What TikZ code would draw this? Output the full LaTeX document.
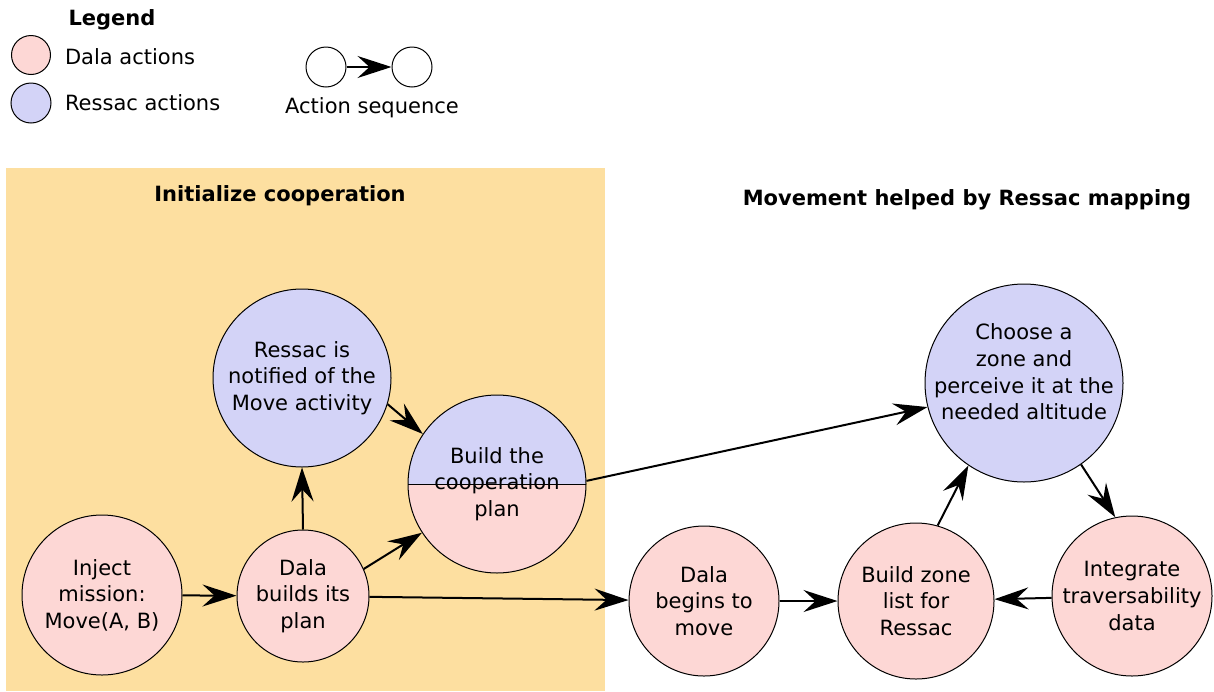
\documentclass[tikz,border=0pt]{standalone}
\usepackage{fontspec}
\setmainfont{DejaVu Sans}
\usepackage{xcolor}
\usetikzlibrary{arrows.meta}

\definecolor{dalapink}{RGB}{253,215,213}
\definecolor{ressacblue}{RGB}{211,211,247}
\definecolor{coopzone}{RGB}{253,223,160}

\tikzset{
	act/.style={circle,draw,line width=0.5pt,inner sep=0pt,align=center},
	dala/.style={act,fill=dalapink},
	ressac/.style={act,fill=ressacblue},
	seq/.style={-{Stealth[length=17pt,width=11pt,inset=6pt]},line width=1pt},
	title/.style={font=\fontsize{10.5}{13.3}\selectfont\bfseries},
}

\begin{document}
\begin{tikzpicture}[x=0.5pt,y=-0.5pt,font=\fontsize{10.5}{13.3}\selectfont]
		\useasboundingbox (0,0) rectangle (1214,691);
		\fill[coopzone] (6,168) rectangle (605,691);
		%
		% legend
		\node[title] (Lg) at (112,20) {Legend};
		\node[dala,minimum size=19.5pt] (L1) at (31,55) {};
		\node[ressac,minimum size=20pt] (L2) at (31,103) {};
		\node[anchor=west] (L1t) at (58,57) {Dala actions};
		\node[anchor=west] (L2t) at (58,103) {Ressac actions};
		\node[act,minimum size=20pt] (S1) at (326,67) {};
		\node[act,minimum size=20pt] (S2) at (412,67) {};
		\node (St) at (372,108) {Action sequence};
		%
		\node[title] (T1) at (280,196) {Initialize cooperation};
		\node[title] (T2) at (967,200) {Movement helped by Ressac mapping};
		%
		\node[dala,minimum size=80pt] (I) at (102,595) {Inject\\mission:\\Move(A, B)};
		\node[dala,minimum size=66pt] (D) at (303,596) {Dala\\builds its\\plan};
		\node[ressac,minimum size=89pt] (R) at (302,378) {Ressac is\\notified of the\\Move activity};
		\node[act,minimum size=89pt,path picture={
			\fill[ressacblue] (path picture bounding box.north west) rectangle (path picture bounding box.east);
			\fill[dalapink] (path picture bounding box.west) rectangle (path picture bounding box.south east);
			\draw[line width=0.5pt] (path picture bounding box.west) -- (path picture bounding box.east);
		}] (C) at (497,484) {Build the\\cooperation\\plan};
		\node[dala,minimum size=75pt] (M) at (704,601) {Dala\\begins to\\move};
		\node[dala,minimum size=78pt] (Z) at (916,601) {Build zone\\list for\\Ressac};
		\node[dala,minimum size=80pt] (T) at (1132,596) {Integrate\\traversability\\data};
		\node[ressac,minimum size=99pt] (P) at (1024,383) {};
		\node[align=center] (Pt) at (1024,372) {Choose a\\zone and\\perceive it at the\\needed altitude};
		%
		\path[seq]
		(S1) edge (S2)
		(I) edge (D)
		(D.north) edge (R.south)
		(R.-17) edge (C.146)
		(D.24) edge (C.213)
		(D) edge (M)
		(C.2) edge (P.194)
		(P.-55) edge (T.102)
		(T) edge (Z)
		(Z.74) edge (P.236)
		(M) edge (Z);
\end{tikzpicture}
\end{document}
